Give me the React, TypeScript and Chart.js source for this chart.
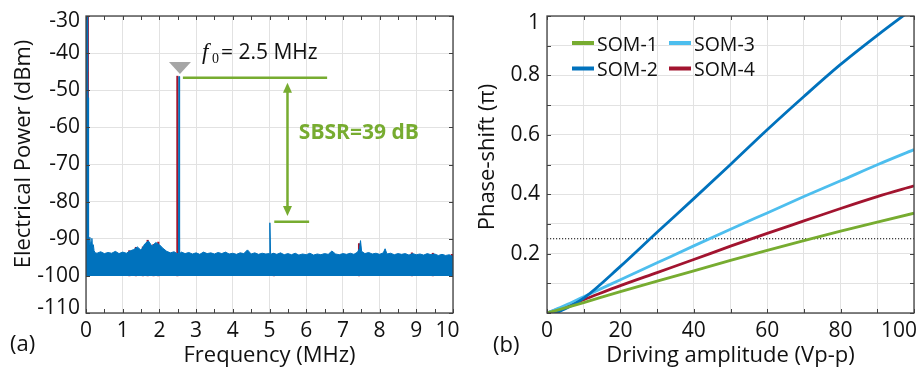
import React, { useEffect, useRef } from 'react';
import { Chart, registerables } from 'chart.js';

Chart.register(...registerables);

const FONT = '"Open Sans", "Noto Sans", sans-serif';
const SERIF = '"Liberation Serif", "DejaVu Serif", serif';
const TEXT = '#111111';
const GRID = '#e2e2e2';
const FRAME = '#404040';
const BLUE = '#0072bd';
const RED = '#a2142f';
const GREEN = '#77ac30';
const LIGHTBLUE = '#4dbeee';
const MARKER = '#a6a6a6';

// ---------------- Panel (a): electrical spectrum ----------------
const freqMinorTicks = [0, 0.5, 1, 1.5, 2, 2.5, 3, 3.5, 4, 4.5, 5, 5.5, 6, 6.5, 7, 7.5, 8, 8.5, 9, 9.5, 10];
const powerTicks = [-110, -100, -90, -80, -70, -60, -50, -40, -30];

// blue trace (top edge of the noise floor + DC, carrier and sideband lines)
const blueFreq = [
  0, 0.03, 0.045, 0.055, 0.065, 0.075, 0.09, 0.105, 0.12, 0.14, 0.16, 0.18, 0.2, 0.22, 0.25,
  0.3, 0.4, 0.5, 0.6, 0.7, 0.8, 0.9, 1.0, 1.1, 1.2, 1.3, 1.4, 1.5, 1.6, 1.7, 1.8, 1.9, 2.0, 2.1, 2.2, 2.3, 2.4, 2.48,
  2.52, 2.535, 2.55,
  2.6, 2.7, 2.8, 2.9, 3.0, 3.1, 3.2, 3.3, 3.4, 3.5, 3.6, 3.7, 3.8, 3.9, 4.0, 4.1, 4.2, 4.3, 4.4, 4.5, 4.6, 4.7, 4.8, 4.9, 4.99,
  5.01, 5.03,
  5.1, 5.2, 5.3, 5.4, 5.5, 5.6, 5.7, 5.8, 5.9, 6.0, 6.1, 6.2, 6.3, 6.4, 6.5, 6.6, 6.7, 6.8, 6.9, 7.0, 7.1, 7.2, 7.3, 7.4,
  7.45, 7.48, 7.51,
  7.6, 7.7, 7.8, 7.9, 8.0, 8.1, 8.15,
  8.2, 8.3, 8.4, 8.5, 8.6, 8.7, 8.8, 8.9, 9.0, 9.1, 9.2, 9.3, 9.4, 9.5, 9.6, 9.7, 9.8, 9.9, 10.0,
];
const bluePower = [
  -25, -28, -45, -52, -75, -89, -91.5, -89.6, -92.0, -90.8, -89.9, -92.4, -91.6, -93.2, -93.8,
  -93.9, -93.5, -94.0, -93.7, -93.9, -93.4, -94.0, -93.6, -93.9, -93.3, -92.9, -92.2, -93.1, -91.4, -90.6, -92.0, -91.0, -91.6, -92.6, -93.4, -93.8, -93.5, -94.0,
  -94.0, -46.3, -94.0,
  -93.6, -94.0, -93.7, -94.1, -93.8, -94.2, -93.6, -94.0, -93.8, -94.1, -93.7, -94.0, -93.6, -94.1, -93.9, -94.2, -93.8, -94.0, -93.0, -94.1, -93.8, -94.2, -93.9, -94.1, -94.0,
  -85.7, -94.2,
  -93.9, -94.2, -93.8, -94.3, -94.0, -94.3, -93.9, -94.4, -94.1, -94.3, -93.9, -94.4, -94.1, -94.3, -94.0, -94.2, -93.3, -94.1, -94.3, -94.0, -94.2, -93.9, -94.2, -93.6,
  -92.6, -90.5, -93.4,
  -94.0, -93.7, -94.1, -93.9, -94.2, -93.8, -92.7,
  -94.1, -93.9, -94.3, -94.0, -94.2, -94.0, -94.4, -94.0, -94.3, -94.1, -94.4, -94.0, -94.3, -94.1, -94.5, -94.2, -94.5, -94.3, -94.8,
];
const noiseFloorLevel = -100;

// red trace: the spikes where it shows above the blue one
const redSpikeFreq = [0.05, 1.18, 1.36, 1.55, 1.68, 1.84, 1.97, 2.49, 5.12, 7.44, 8.88, 9.45, 9.97];
const redSpikePower = [-30, -93.2, -92.3, -92.2, -90.4, -91.5, -90.9, -46.2, -94.0, -91.3, -93.8, -93.9, -94.2];

// annotation anchors (data units)
const carrierMarker = { freq: 2.56, power: -45.6 };
const carrierLine = { from: 2.64, to: 6.57, power: -46.6 };
const sidebandLine = { from: 5.13, to: 6.08, power: -85.4 };
const sbsrArrow = { freq: 5.49, top: -48.0, bottom: -83.9 };
const sbsrLabel = { text: 'SBSR=39 dB', freq: 5.8, power: -61.5 };
const f0Label = { freq: 3.16, power: -41.45, symbol: 'f', sub: '0', rest: '= 2.5 MHz' };

// ---------------- Panel (b): phase shift ----------------
const driveAmp = [0, 5, 10, 20, 30, 40, 50, 60, 70, 80, 90, 100];
const som1 = [0, 0.017, 0.035, 0.072, 0.107, 0.142, 0.177, 0.211, 0.244, 0.276, 0.306, 0.336];
const som2 = [-0.012, 0.014, 0.05, 0.157, 0.272, 0.385, 0.5, 0.617, 0.729, 0.837, 0.935, 1.028];
const som3 = [0, 0.026, 0.055, 0.112, 0.169, 0.226, 0.282, 0.337, 0.392, 0.445, 0.499, 0.55];
const som4 = [0, 0.022, 0.045, 0.092, 0.136, 0.18, 0.225, 0.268, 0.31, 0.352, 0.392, 0.428];
const seriesNames = ['SOM-1', 'SOM-2', 'SOM-3', 'SOM-4'];
const legendOrder = ['SOM-1', 'SOM-3', 'SOM-2', 'SOM-4'];
const phaseThreshold = 0.25;
const ampTicks = [0, 10, 20, 30, 40, 50, 60, 70, 80, 90, 100];
const phaseTicks = [0, 0.1, 0.2, 0.3, 0.4, 0.5, 0.6, 0.7, 0.8, 0.9, 1];

type EdgeLabel = { axis: 'x' | 'y'; value: number; text: string; shift: number };

const TICK_SIZE = 21;
const TITLE_SIZE = 22;

function frameAndTicks(xTicks: number[], yTicks: number[], len: number) {
  return {
    id: 'frameAndTicks',
    afterDatasetsDraw(chart: any) {
      const { ctx, chartArea: a, scales } = chart;
      ctx.save();
      ctx.strokeStyle = FRAME;
      ctx.lineWidth = 1;
      ctx.beginPath();
      xTicks.forEach((v) => {
        const p = Math.round(scales.x.getPixelForValue(v)) + 0.5;
        ctx.moveTo(p, a.bottom);
        ctx.lineTo(p, a.bottom - len);
        ctx.moveTo(p, a.top);
        ctx.lineTo(p, a.top + len);
      });
      yTicks.forEach((v) => {
        const p = Math.round(scales.y.getPixelForValue(v)) + 0.5;
        ctx.moveTo(a.left, p);
        ctx.lineTo(a.left + len, p);
        ctx.moveTo(a.right, p);
        ctx.lineTo(a.right - len, p);
      });
      ctx.stroke();
      ctx.lineWidth = 1.3;
      ctx.strokeRect(a.left, a.top, a.right - a.left, a.bottom - a.top);
      ctx.restore();
    },
  };
}

function edgeLabels(items: EdgeLabel[], xPad: number, yPad: number) {
  return {
    id: 'edgeLabels',
    afterDraw(chart: any) {
      const { ctx, chartArea: a, scales } = chart;
      ctx.save();
      ctx.font = `${TICK_SIZE}px ${FONT}`;
      ctx.fillStyle = TEXT;
      ctx.textBaseline = 'middle';
      items.forEach((it) => {
        if (it.axis === 'x') {
          ctx.textAlign = 'center';
          ctx.fillText(it.text, scales.x.getPixelForValue(it.value) + it.shift, a.bottom + xPad + TICK_SIZE * 0.6);
        } else {
          ctx.textAlign = 'right';
          ctx.fillText(it.text, a.left - yPad, scales.y.getPixelForValue(it.value) + it.shift);
        }
      });
      ctx.restore();
    },
  };
}

function yTitle(text: string, cx: number, cy: number) {
  return {
    id: 'yTitle',
    afterDraw(chart: any) {
      const ctx = chart.ctx;
      ctx.save();
      ctx.translate(cx, cy);
      ctx.rotate(-Math.PI / 2);
      ctx.font = `${TITLE_SIZE}px ${FONT}`;
      ctx.fillStyle = TEXT;
      ctx.textAlign = 'center';
      ctx.textBaseline = 'middle';
      ctx.fillText(text, 0, 0);
      ctx.restore();
    },
  };
}

function panelLabel(text: string, x: number, y: number) {
  return {
    id: 'panelLabel',
    afterDraw(chart: any) {
      const ctx = chart.ctx;
      ctx.save();
      ctx.font = `22px ${FONT}`;
      ctx.fillStyle = TEXT;
      ctx.textAlign = 'left';
      ctx.textBaseline = 'alphabetic';
      ctx.fillText(text, x, y);
      ctx.restore();
    },
  };
}

const spectrumAnnotations = {
  id: 'spectrumAnnotations',
  afterDatasetsDraw(chart: any) {
    const { ctx, scales } = chart;
    const X = (v: number) => scales.x.getPixelForValue(v);
    const Y = (v: number) => scales.y.getPixelForValue(v);
    ctx.save();
    // marker
    const mx = X(carrierMarker.freq);
    const my = Y(carrierMarker.power);
    ctx.fillStyle = MARKER;
    ctx.beginPath();
    ctx.moveTo(mx, my);
    ctx.lineTo(mx - 11, my - 12);
    ctx.lineTo(mx + 11, my - 12);
    ctx.closePath();
    ctx.fill();
    // level lines and arrow
    ctx.strokeStyle = GREEN;
    ctx.fillStyle = GREEN;
    ctx.lineWidth = 2.5;
    ctx.beginPath();
    ctx.moveTo(X(carrierLine.from), Y(carrierLine.power));
    ctx.lineTo(X(carrierLine.to), Y(carrierLine.power));
    ctx.moveTo(X(sidebandLine.from), Y(sidebandLine.power));
    ctx.lineTo(X(sidebandLine.to), Y(sidebandLine.power));
    const ax = X(sbsrArrow.freq);
    const at = Y(sbsrArrow.top);
    const ab = Y(sbsrArrow.bottom);
    ctx.moveTo(ax, at + 8);
    ctx.lineTo(ax, ab - 8);
    ctx.stroke();
    ctx.beginPath();
    ctx.moveTo(ax, at);
    ctx.lineTo(ax - 4.5, at + 10);
    ctx.lineTo(ax + 4.5, at + 10);
    ctx.closePath();
    ctx.fill();
    ctx.beginPath();
    ctx.moveTo(ax, ab);
    ctx.lineTo(ax - 4.5, ab - 10);
    ctx.lineTo(ax + 4.5, ab - 10);
    ctx.closePath();
    ctx.fill();
    ctx.font = `bold 21px ${FONT}`;
    ctx.textAlign = 'left';
    ctx.textBaseline = 'middle';
    ctx.fillText(sbsrLabel.text, X(sbsrLabel.freq), Y(sbsrLabel.power));
    // f0 label
    const bx = X(f0Label.freq);
    const by = Y(f0Label.power);
    ctx.fillStyle = TEXT;
    ctx.textBaseline = 'alphabetic';
    ctx.font = `italic 23px ${SERIF}`;
    ctx.fillText(f0Label.symbol, bx, by);
    ctx.font = `14px ${SERIF}`;
    ctx.fillText(f0Label.sub, bx + 10, by + 4);
    ctx.font = `21px ${FONT}`;
    ctx.fillText(f0Label.rest, bx + 19, by);
    ctx.restore();
  },
};

const phaseLegend = {
  id: 'phaseLegend',
  afterDraw(chart: any) {
    const ctx = chart.ctx;
    ctx.save();
    ctx.font = `19.5px ${FONT}`;
    ctx.textAlign = 'left';
    ctx.textBaseline = 'middle';
    legendOrder.forEach((name, k) => {
      const ds = chart.data.datasets.find((d: any) => d.label === name);
      if (!ds) return;
      const col = k % 2;
      const row = Math.floor(k / 2);
      const x0 = 112 + col * 97;
      const y0 = 44 + row * 25.5;
      ctx.fillStyle = ds.borderColor;
      ctx.fillRect(x0, y0 - 3, 22, 4);
      ctx.fillStyle = TEXT;
      ctx.fillText(name, x0 + 25, y0 + 1);
    });
    ctx.restore();
  },
};

export default function App() {
  const aRef = useRef<HTMLCanvasElement>(null);
  const bRef = useRef<HTMLCanvasElement>(null);

  useEffect(() => {
    const tickFont = { family: FONT, size: TICK_SIZE };
    const titleFont = { family: FONT, size: TITLE_SIZE };

    const hiddenA = { x: [10], y: [-30, -110] };
    const spectrum = new Chart(aRef.current as HTMLCanvasElement, {
      type: 'line',
      data: {
        datasets: [
          {
            label: 'trace 2',
            data: blueFreq.map((f, i) => ({ x: f, y: bluePower[i] })),
            borderColor: BLUE,
            backgroundColor: BLUE,
            borderWidth: 1,
            pointRadius: 0,
            tension: 0,
            fill: { value: noiseFloorLevel },
            order: 0,
          } as any,
          {
            type: 'bar',
            label: 'trace 1',
            data: redSpikeFreq.map((f, i) => ({ x: f, y: [noiseFloorLevel, redSpikePower[i]] })),
            backgroundColor: RED,
            borderWidth: 0,
            barThickness: 1.5,
            order: 1,
          } as any,
        ],
      },
      options: {
        responsive: false,
        animation: false,
        events: [],
        layout: { padding: { top: 16, right: 7, left: 0, bottom: 0 } },
        plugins: { legend: { display: false }, tooltip: { enabled: false } },
        scales: {
          x: {
            type: 'linear',
            min: 0,
            max: 10,
            offset: false,
            ticks: {
              stepSize: 1,
              autoSkip: false,
              maxRotation: 0,
              font: tickFont,
              color: TEXT,
              padding: 5,
              callback: (v: any) => (hiddenA.x.includes(Number(v)) ? '' : String(v)),
            },
            grid: { color: GRID, drawTicks: false, offset: false },
            border: { display: false },
            title: { display: true, text: 'Frequency (MHz)', font: titleFont, color: TEXT, padding: { top: 0, bottom: 0 } },
            afterFit: (s: any) => {
              s.height = 56;
              s.paddingLeft = 0;
              s.paddingRight = 0;
            },
          },
          y: {
            type: 'linear',
            min: -110,
            max: -30,
            ticks: {
              stepSize: 10,
              autoSkip: false,
              font: tickFont,
              color: TEXT,
              padding: 6,
              callback: (v: any) => (hiddenA.y.includes(Number(v)) ? '' : String(v)),
            },
            grid: { color: GRID, drawTicks: false },
            border: { display: false },
            title: { display: false },
            afterFit: (s: any) => {
              s.width = 86;
              s.paddingTop = 0;
              s.paddingBottom = 0;
            },
          },
        },
      } as any,
      plugins: [
        spectrumAnnotations,
        frameAndTicks(freqMinorTicks, powerTicks, 4),
        edgeLabels(
          [
            { axis: 'x', value: 10, text: '10', shift: -5.5 },
            { axis: 'y', value: -30, text: '-30', shift: 5.5 },
            { axis: 'y', value: -110, text: '-110', shift: -5 },
          ],
          5,
          6
        ),
        yTitle('Electrical Power (dBm)', 23.5, 154),
        panelLabel('(a)', 10, 351),
      ],
    });

    const hiddenB = { x: [100], y: [1] };
    const seriesData = [som1, som2, som3, som4];
    const seriesColors = [GREEN, BLUE, LIGHTBLUE, RED];
    const phase = new Chart(bRef.current as HTMLCanvasElement, {
      type: 'line',
      data: {
        datasets: [
          ...seriesNames.map((name, k) => ({
            label: name,
            data: driveAmp.map((x, i) => ({ x, y: seriesData[k][i] })),
            borderColor: seriesColors[k],
            backgroundColor: seriesColors[k],
            borderWidth: 2.8,
            pointRadius: 0,
            cubicInterpolationMode: 'monotone',
            clip: 0,
            order: k,
          })),
          {
            label: 'threshold',
            data: [
              { x: driveAmp[0], y: phaseThreshold },
              { x: driveAmp[driveAmp.length - 1], y: phaseThreshold },
            ],
            borderColor: '#000000',
            borderWidth: 1,
            borderDash: [1.2, 1.8],
            pointRadius: 0,
            order: 10,
          },
        ] as any,
      },
      options: {
        responsive: false,
        animation: false,
        events: [],
        layout: { padding: { top: 16, right: 7, left: 0, bottom: 0 } },
        plugins: { legend: { display: false }, tooltip: { enabled: false } },
        scales: {
          x: {
            type: 'linear',
            min: 0,
            max: 100,
            offset: false,
            ticks: {
              stepSize: 10,
              autoSkip: false,
              maxRotation: 0,
              font: tickFont,
              color: TEXT,
              padding: 5,
              callback: (v: any) => {
                const n = Number(v);
                if (hiddenB.x.includes(n)) return '';
                return Math.round(n) % 20 === 0 ? String(Math.round(n)) : '';
              },
            },
            grid: { color: GRID, drawTicks: false },
            border: { display: false },
            title: { display: true, text: 'Driving amplitude (Vp-p)', font: titleFont, color: TEXT, padding: { top: 0, bottom: 0 } },
            afterFit: (s: any) => {
              s.height = 56;
              s.paddingLeft = 0;
              s.paddingRight = 0;
            },
          },
          y: {
            type: 'linear',
            min: 0,
            max: 1,
            ticks: {
              stepSize: 0.1,
              autoSkip: false,
              font: tickFont,
              color: TEXT,
              padding: 7,
              callback: (v: any) => {
                const t = Math.round(Number(v) * 10);
                if (t === 0 || t % 2 !== 0) return '';
                if (hiddenB.y.includes(t / 10)) return '';
                return String(t / 10);
              },
            },
            grid: { color: GRID, drawTicks: false },
            border: { display: false },
            title: { display: false },
            afterFit: (s: any) => {
              s.width = 87;
              s.paddingTop = 0;
              s.paddingBottom = 0;
            },
          },
        },
      } as any,
      plugins: [
        frameAndTicks(ampTicks, phaseTicks, 4),
        phaseLegend,
        edgeLabels(
          [
            { axis: 'x', value: 100, text: '100', shift: -15 },
            { axis: 'y', value: 1, text: '1', shift: 7.5 },
          ],
          5,
          7
        ),
        yTitle('Phase-shift (π)', 27.5, 157),
        panelLabel('(b)', 33, 352),
      ],
    });

    return () => {
      spectrum.destroy();
      phase.destroy();
    };
  }, []);

  return (
    <div style={{ position: 'absolute', left: 0, top: 0, width: 921, height: 369, background: '#ffffff', overflow: 'hidden' }}>
      <canvas ref={aRef} width={460} height={369} style={{ position: 'absolute', left: 0, top: 0 }} />
      <canvas ref={bRef} width={461} height={369} style={{ position: 'absolute', left: 460, top: 0 }} />
    </div>
  );
}
